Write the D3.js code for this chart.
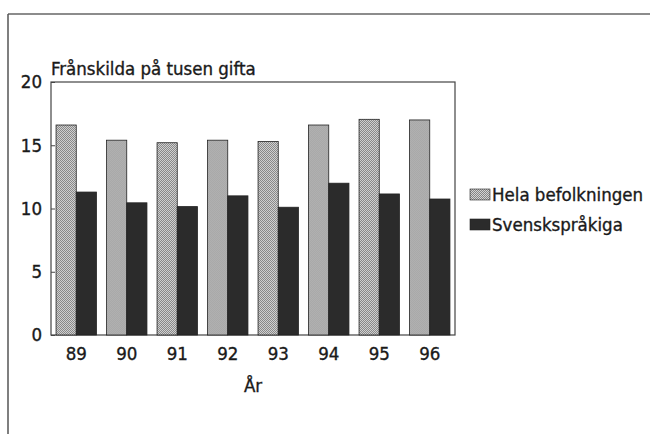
<!DOCTYPE html>
<html>
<head>
<meta charset="utf-8">
<script src="https://cdn.jsdelivr.net/npm/d3@7"></script>
<style>
  body { margin: 0; background: #fff; }
  text { font-family: "Liberation Sans Narrow", "DejaVu Sans Condensed", "Roboto", sans-serif; fill: #1a1a1a; stroke: #1a1a1a; stroke-width: 0.35px; }
</style>
</head>
<body>
<svg id="chart" width="650" height="434"></svg>
<script>
var years = ['89', '90', '91', '92', '93', '94', '95', '96'];
var hela = [16.6, 15.4, 15.2, 15.4, 15.3, 16.6, 17.05, 17.0];
var svensk = [11.3, 10.45, 10.15, 11.0, 10.1, 12.0, 11.15, 10.75];
var seriesNames = ['Hela befolkningen', 'Svenskspråkiga'];
var yTicks = [0, 5, 10, 15, 20];

var svg = d3.select('#chart');

var plot = { left: 51, top: 82, right: 455, bottom: 335 };

/**
 * pattern for the dotted grey fill
 */
var defs = svg.append('defs');
var pat = defs.append('pattern')
  .attr('id', 'dots')
  .attr('width', 2)
  .attr('height', 2)
  .attr('patternUnits', 'userSpaceOnUse');
pat.append('rect').attr('width', 2).attr('height', 2).attr('fill', '#d4d4d4');
pat.append('rect').attr('width', 1).attr('height', 1).attr('fill', '#858585');
pat.append('rect').attr('x', 1).attr('y', 1).attr('width', 1).attr('height', 1).attr('fill', '#858585');

var fills = ['url(#dots)', '#2b2b2b'];

// outer frame
svg.append('line')
  .attr('x1', 8).attr('y1', 14).attr('x2', 650).attr('y2', 14)
  .attr('stroke', '#666').attr('stroke-width', 1.5);
svg.append('line')
  .attr('x1', 8).attr('y1', 14).attr('x2', 8).attr('y2', 434)
  .attr('stroke', '#555').attr('stroke-width', 1.5);

var x = d3.scaleBand()
  .domain(years)
  .range([plot.left, plot.right])
  .paddingInner(0.2)
  .paddingOuter(0.1);

var xSub = d3.scaleBand()
  .domain([0, 1])
  .range([0, x.bandwidth()]);

var y = d3.scaleLinear()
  .domain([0, 20])
  .range([plot.bottom, plot.top]);

// plot box
svg.append('rect')
  .attr('x', plot.left)
  .attr('y', plot.top)
  .attr('width', plot.right - plot.left)
  .attr('height', plot.bottom - plot.top)
  .attr('fill', 'none')
  .attr('stroke', '#444')
  .attr('stroke-width', 1.2);

// bars
var groups = svg.append('g')
  .selectAll('g')
  .data(years)
  .enter()
  .append('g')
  .attr('transform', function (d) { return 'translate(' + x(d) + ',0)'; });

groups.selectAll('rect')
  .data(function (d, i) { return [hela[i], svensk[i]]; })
  .enter()
  .append('rect')
  .attr('x', function (d, j) { return xSub(j); })
  .attr('y', function (d) { return y(d); })
  .attr('width', xSub.bandwidth())
  .attr('height', function (d) { return y(0) - y(d); })
  .attr('fill', function (d, j) { return fills[j]; })
  .attr('stroke', '#222')
  .attr('stroke-width', 0.8);

// y axis
var yAxis = svg.append('g')
  .attr('transform', 'translate(' + plot.left + ',0)')
  .call(d3.axisLeft(y).tickValues(yTicks).tickSize(-4).tickPadding(9));
yAxis.select('.domain').remove();
yAxis.selectAll('line').attr('stroke', '#444');
yAxis.selectAll('text')
  .style('font-size', '18.5px')
  .attr('fill', '#1a1a1a');

// x axis
var xAxis = svg.append('g')
  .attr('transform', 'translate(0,' + plot.bottom + ')')
  .call(d3.axisBottom(x).tickSize(0).tickPadding(12));
xAxis.select('.domain').remove();
xAxis.selectAll('text')
  .style('font-size', '18.5px')
  .attr('fill', '#1a1a1a');

// titles
svg.append('text')
  .attr('x', plot.left)
  .attr('y', 75)
  .style('font-size', '18.5px')
  .text('Frånskilda på tusen gifta');

svg.append('text')
  .attr('x', (plot.left + plot.right) / 2)
  .attr('y', 392)
  .attr('text-anchor', 'middle')
  .style('font-size', '18.5px')
  .text('År');

// legend
var legend = svg.append('g')
  .attr('transform', 'translate(470,189)');
var items = legend.selectAll('g')
  .data(seriesNames)
  .enter()
  .append('g')
  .attr('transform', function (d, i) { return 'translate(0,' + (i * 30) + ')'; });
items.append('rect')
  .attr('width', 20)
  .attr('height', 11)
  .attr('fill', function (d, i) { return fills[i]; })
  .attr('stroke', '#222')
  .attr('stroke-width', 0.6);
items.append('text')
  .attr('x', 22)
  .attr('y', 12)
  .style('font-size', '18.5px')
  .text(function (d) { return d; });
</script>
</body>
</html>
